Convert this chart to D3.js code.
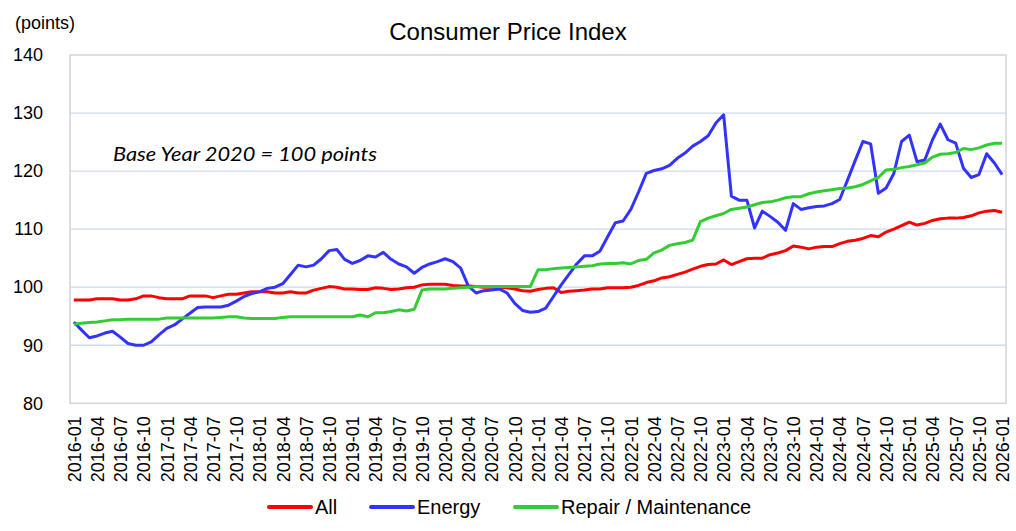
<!DOCTYPE html>
<html><head><meta charset="utf-8">
<script src="https://cdn.jsdelivr.net/npm/d3@7"></script>
<style>
html,body{margin:0;padding:0;background:#fff;}
svg{display:block;font-family:"Liberation Sans",Arial,sans-serif;}
</style></head>
<body>
<svg id="chart" width="1016" height="531"></svg>
<script>
// Categories: monthly from 2016-01 to 2026-01
const months = [];
for (let y = 2016; y <= 2026; y++) {
  for (let m = 1; m <= 12; m++) {
    if (y === 2026 && m > 1) break;
    months.push(y + "-" + String(m).padStart(2, "0"));
  }
}
const yTicks = [80, 90, 100, 110, 120, 130, 140];

const allItems = [97.8,97.8,97.8,98.0,98.0,98.0,97.8,97.8,98.0,98.5,98.5,98.2,
98.0,98.0,98.0,98.5,98.5,98.5,98.2,98.5,98.8,98.8,99.0,99.2,
99.2,99.2,99.0,99.0,99.2,99.0,99.0,99.5,99.8,100.1,100.0,99.7,
99.7,99.6,99.6,99.9,99.8,99.6,99.7,99.9,100.0,100.4,100.5,100.5,
100.5,100.3,100.2,100.2,100.1,100.0,100.0,100.0,99.9,99.7,99.4,99.3,
99.6,99.8,99.9,99.1,99.3,99.4,99.5,99.7,99.7,99.9,99.9,99.9,
100.0,100.3,100.8,101.1,101.6,101.8,102.2,102.6,103.1,103.6,103.9,104.0,
104.7,103.9,104.4,104.9,105.0,105.0,105.6,105.9,106.3,107.1,106.9,106.6,
106.9,107.0,107.0,107.5,107.9,108.1,108.4,108.9,108.7,109.5,110.0,110.6,
111.2,110.7,111.0,111.5,111.8,111.9,111.9,112.0,112.3,112.8,113.1,113.2,
112.9];

const energy = [94.0,92.6,91.3,91.6,92.1,92.4,91.4,90.3,90.0,90.0,90.6,91.8,
92.9,93.5,94.5,95.5,96.5,96.6,96.6,96.6,96.9,97.6,98.4,98.9,
99.2,99.8,100.0,100.6,102.2,103.8,103.5,103.8,104.9,106.3,106.5,104.8,
104.1,104.6,105.4,105.2,106.0,104.8,104.0,103.5,102.4,103.4,104.0,104.4,
104.9,104.4,103.3,100.2,99.0,99.4,99.5,99.7,99.0,97.2,96.0,95.7,
95.8,96.4,98.4,100.4,102.2,104.0,105.4,105.4,106.2,108.7,111.1,111.4,
113.4,116.4,119.6,120.1,120.4,121.0,122.2,123.1,124.3,125.1,126.1,128.3,
129.7,115.7,115.0,115.0,110.2,113.1,112.2,111.2,109.8,114.4,113.4,113.7,
113.9,114.0,114.4,115.1,118.4,121.8,125.1,124.7,116.2,117.1,119.6,125.1,
126.2,121.6,121.9,125.4,128.1,125.4,124.8,120.5,118.9,119.4,123.0,121.4,
119.4];

const repair = [93.6,93.8,93.9,94.0,94.2,94.4,94.4,94.5,94.5,94.5,94.5,94.5,
94.7,94.7,94.7,94.7,94.7,94.7,94.7,94.8,94.9,94.9,94.7,94.6,
94.6,94.6,94.6,94.8,94.9,94.9,94.9,94.9,94.9,94.9,94.9,94.9,
94.9,95.2,94.9,95.6,95.6,95.8,96.1,95.9,96.2,99.5,99.7,99.7,
99.7,99.8,99.9,100.0,100.1,100.1,100.1,100.1,100.1,100.1,100.1,100.1,
103.0,103.0,103.2,103.3,103.4,103.5,103.6,103.7,104.0,104.1,104.1,104.2,
104.0,104.6,104.8,105.9,106.4,107.2,107.5,107.7,108.1,111.3,111.9,112.3,
112.7,113.4,113.6,113.8,114.2,114.6,114.7,115.0,115.4,115.6,115.6,116.1,
116.4,116.6,116.8,117.0,117.1,117.3,117.7,118.3,118.9,120.2,120.3,120.6,
120.8,121.1,121.4,122.4,122.9,123.0,123.2,123.9,123.7,124.0,124.5,124.8,
124.8];

const seriesNames = ["All", "Energy", "Repair / Maintenance"];
const seriesColors = ["#ff0000", "#3333ff", "#33cc33"];
const seriesData = [allItems, energy, repair];

const svg = d3.select("#chart");
const L = 70, R = 1006, T = 55, B = 403.3;

const x = d3.scalePoint().domain(months).range([L, R]).padding(0.5);
const y = d3.scaleLinear().domain([80, 140]).range([B, T]);

// gridlines
svg.append("g").selectAll("line").data(yTicks.filter(v => v > 80 && v < 140)).join("line")
  .attr("x1", L).attr("x2", R).attr("y1", d => y(d)).attr("y2", d => y(d))
  .attr("stroke", "#c9dbef").attr("stroke-width", 1.3);

// frame
svg.append("rect").attr("x", L).attr("y", T).attr("width", R - L).attr("height", B - T)
  .attr("fill", "none").attr("stroke", "#d4d4d4").attr("stroke-width", 1.5);

// y axis labels
const yAxis = d3.axisLeft(y).tickValues(yTicks).tickSize(0).tickPadding(0);
const gy = svg.append("g").attr("transform", `translate(43,0)`).call(yAxis);
gy.select(".domain").remove();
gy.selectAll("text").attr("font-size", 18).attr("fill", "#000")
  .attr("font-family", "'Liberation Sans', Arial, sans-serif");

// x axis labels
const xTickVals = months.filter((d, i) => i % 3 === 0);
const xAxis = d3.axisBottom(x).tickValues(xTickVals).tickSize(0);
const gx = svg.append("g").attr("transform", `translate(0,${B})`).call(xAxis);
gx.select(".domain").remove();
gx.selectAll("text")
  .attr("font-size", 18).attr("fill", "#000")
  .attr("font-family", "'Liberation Sans', Arial, sans-serif")
  .attr("transform", "rotate(-90)")
  .attr("text-anchor", "end")
  .attr("x", -13).attr("y", 0).attr("dy", "0.35em");

// lines
const line = d3.line().x((d, i) => x(months[i])).y(d => y(d));
seriesData.forEach((s, k) => {
  svg.append("path").datum(s).attr("d", line)
    .attr("fill", "none").attr("stroke", seriesColors[k]).attr("stroke-width", 3)
    .attr("stroke-linejoin", "round");
});

// title
svg.append("text").attr("x", 508).attr("y", 40).attr("text-anchor", "middle")
  .attr("font-size", 24).text("Consumer Price Index");
svg.append("text").attr("x", 15).attr("y", 29).attr("font-size", 18).text("(points)");

// annotation
svg.append("text").attr("x", 113).attr("y", 161)
  .attr("font-family", "Lato, 'Open Sans', sans-serif").attr("font-style", "italic")
  .attr("font-size", 20).attr("textLength", 264).attr("lengthAdjust", "spacingAndGlyphs")
  .text("Base Year 2020 = 100 points");

// legend
const legX = [269, 371, 515];
const leg = svg.append("g");
seriesNames.forEach((n, k) => {
  leg.append("line").attr("x1", legX[k]).attr("x2", legX[k] + 42)
    .attr("y1", 507).attr("y2", 507)
    .attr("stroke", seriesColors[k]).attr("stroke-width", 4).attr("stroke-linecap", "round");
  leg.append("text").attr("x", legX[k] + 46).attr("y", 514).attr("font-size", 20).text(n);
});
</script>
</body></html>
